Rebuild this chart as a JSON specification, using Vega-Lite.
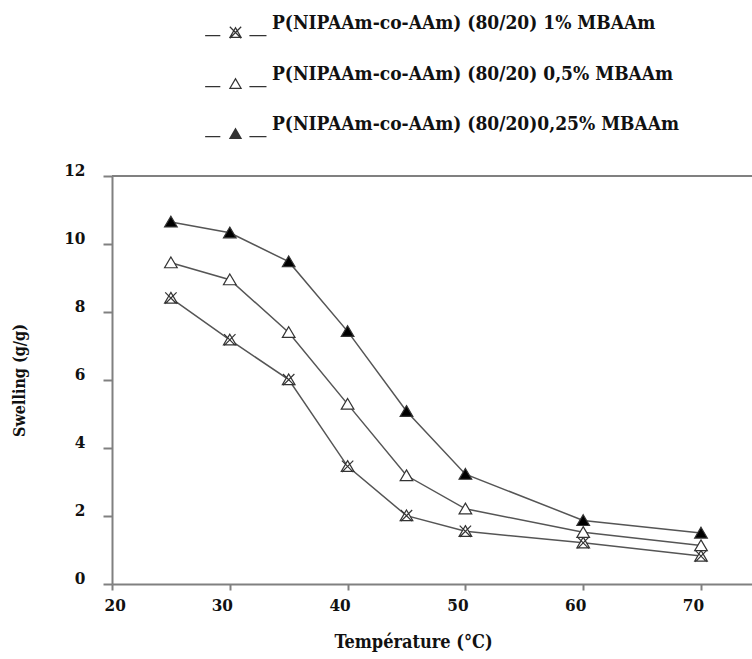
{
  "$schema": "https://vega.github.io/schema/vega-lite/v6.json",
  "width": 640,
  "height": 408,
  "autosize": {"type": "none"},
  "padding": {"left": 112, "top": 176, "right": 0, "bottom": 75},
  "background": "white",
  "config": {
    "view": {"stroke": null},
    "font": "DejaVu Serif Condensed"
  },
  "resolve": {"scale": {"shape": "independent", "fill": "independent"}, "legend": {"shape": "independent", "fill": "independent"}},
  "data": {
    "values": [
      {"T": 25, "S": 8.41, "series": "P(NIPAAm-co-AAm) (80/20) 1% MBAAm"},
      {"T": 30, "S": 7.18, "series": "P(NIPAAm-co-AAm) (80/20) 1% MBAAm"},
      {"T": 35, "S": 6.01, "series": "P(NIPAAm-co-AAm) (80/20) 1% MBAAm"},
      {"T": 40, "S": 3.46, "series": "P(NIPAAm-co-AAm) (80/20) 1% MBAAm"},
      {"T": 45, "S": 2.01, "series": "P(NIPAAm-co-AAm) (80/20) 1% MBAAm"},
      {"T": 50, "S": 1.55, "series": "P(NIPAAm-co-AAm) (80/20) 1% MBAAm"},
      {"T": 60, "S": 1.21, "series": "P(NIPAAm-co-AAm) (80/20) 1% MBAAm"},
      {"T": 70, "S": 0.82, "series": "P(NIPAAm-co-AAm) (80/20) 1% MBAAm"},
      {"T": 25, "S": 9.45, "series": "P(NIPAAm-co-AAm) (80/20) 0,5% MBAAm"},
      {"T": 30, "S": 8.95, "series": "P(NIPAAm-co-AAm) (80/20) 0,5% MBAAm"},
      {"T": 35, "S": 7.40, "series": "P(NIPAAm-co-AAm) (80/20) 0,5% MBAAm"},
      {"T": 40, "S": 5.29, "series": "P(NIPAAm-co-AAm) (80/20) 0,5% MBAAm"},
      {"T": 45, "S": 3.19, "series": "P(NIPAAm-co-AAm) (80/20) 0,5% MBAAm"},
      {"T": 50, "S": 2.21, "series": "P(NIPAAm-co-AAm) (80/20) 0,5% MBAAm"},
      {"T": 60, "S": 1.52, "series": "P(NIPAAm-co-AAm) (80/20) 0,5% MBAAm"},
      {"T": 70, "S": 1.13, "series": "P(NIPAAm-co-AAm) (80/20) 0,5% MBAAm"},
      {"T": 25, "S": 10.65, "series": "P(NIPAAm-co-AAm) (80/20)0,25% MBAAm"},
      {"T": 30, "S": 10.33, "series": "P(NIPAAm-co-AAm) (80/20)0,25% MBAAm"},
      {"T": 35, "S": 9.48, "series": "P(NIPAAm-co-AAm) (80/20)0,25% MBAAm"},
      {"T": 40, "S": 7.43, "series": "P(NIPAAm-co-AAm) (80/20)0,25% MBAAm"},
      {"T": 45, "S": 5.08, "series": "P(NIPAAm-co-AAm) (80/20)0,25% MBAAm"},
      {"T": 50, "S": 3.23, "series": "P(NIPAAm-co-AAm) (80/20)0,25% MBAAm"},
      {"T": 60, "S": 1.87, "series": "P(NIPAAm-co-AAm) (80/20)0,25% MBAAm"},
      {"T": 70, "S": 1.50, "series": "P(NIPAAm-co-AAm) (80/20)0,25% MBAAm"}
    ]
  },
  "encoding": {
    "x": {
      "field": "T", "type": "quantitative",
      "scale": {"domain": [20, 74.33], "nice": false, "zero": false},
      "axis": {
        "title": "Température (°C)",
        "values": [20, 30, 40, 50, 60, 70],
        "grid": false,
        "domainColor": "#808080", "domainWidth": 2,
        "tickColor": "#808080", "tickWidth": 2, "tickSize": 6,
        "labelFont": "DejaVu Serif Condensed", "labelFontWeight": "bold", "labelFontSize": 17, "labelColor": "#111",
        "labelPadding": 7, "labelOffset": -8,
        "titleFont": "DejaVu Serif Condensed", "titleFontWeight": "bold", "titleFontSize": 18, "titleColor": "#111",
        "titlePadding": 20, "titleX": 301
      }
    },
    "y": {
      "field": "S", "type": "quantitative",
      "scale": {"domain": [0, 12], "nice": false},
      "axis": {
        "title": "Swelling (g/g)",
        "values": [0, 2, 4, 6, 8, 10, 12],
        "grid": false,
        "domainColor": "#808080", "domainWidth": 2,
        "tickColor": "#808080", "tickWidth": 2, "tickSize": 9,
        "labelFont": "DejaVu Serif Condensed", "labelFontWeight": "bold", "labelFontSize": 17, "labelColor": "#111",
        "labelPadding": 18, "labelOffset": -6,
        "titleFont": "DejaVu Serif Condensed", "titleFontWeight": "bold", "titleFontSize": 16, "titleColor": "#111",
        "titlePadding": 36
      }
    }
  },
  "layer": [
    {
      "mark": {"type": "rule", "color": "#808080", "strokeWidth": 2},
      "encoding": {"y": {"datum": 12}, "x": null}
    },
    {
      "mark": {"type": "line", "color": "#555555", "strokeWidth": 1.5},
      "encoding": {"detail": {"field": "series"}}
    },
    {
      "mark": {"type": "point", "filled": true, "stroke": "#333333", "strokeWidth": 1.2, "size": 160, "opacity": 1},
      "encoding": {
        "shape": {
          "field": "series", "type": "nominal",
          "legend": null,
          "scale": {
            "domain": ["P(NIPAAm-co-AAm) (80/20) 1% MBAAm", "P(NIPAAm-co-AAm) (80/20) 0,5% MBAAm", "P(NIPAAm-co-AAm) (80/20)0,25% MBAAm"],
            "range": [
              "M0,-0.9L1,0.8L-1,0.8Z M-0.9,-0.9L0.9,0.9 M0.9,-0.9L-0.9,0.9",
              "M0,-0.9L1,0.8L-1,0.8Z",
              "M0,-0.9L1,0.8L-1,0.8Z"
            ]
          }
        },
        "fill": {
          "field": "series", "type": "nominal",
          "legend": null,
          "scale": {
            "domain": ["P(NIPAAm-co-AAm) (80/20) 1% MBAAm", "P(NIPAAm-co-AAm) (80/20) 0,5% MBAAm", "P(NIPAAm-co-AAm) (80/20)0,25% MBAAm"],
            "range": ["white", "white", "black"]
          }
        }
      }
    },
    {
      "mark": {"type": "point", "filled": true, "color": "#333333", "size": 160, "opacity": 0},
      "encoding": {
        "shape": {
          "field": "series", "type": "nominal",
          "scale": {
            "domain": ["P(NIPAAm-co-AAm) (80/20) 1% MBAAm", "P(NIPAAm-co-AAm) (80/20) 0,5% MBAAm", "P(NIPAAm-co-AAm) (80/20)0,25% MBAAm"],
            "range": [
              "M-4.8,0.4H-2.4V0.6H-4.8Z M2.2,0.4H4.9V0.6H2.2Z M0,-0.95L1.05,0.85L-1.05,0.85Z M0,-0.55L-0.72,0.67L0.72,0.67Z M-0.83,-0.97L0.97,0.83L0.83,0.97L-0.97,-0.83Z M0.83,-0.97L0.97,-0.83L-0.83,0.97L-0.97,0.83Z",
              "M-4.8,0.4H-2.4V0.6H-4.8Z M2.2,0.4H4.9V0.6H2.2Z M0,-0.95L1.05,0.85L-1.05,0.85Z M0,-0.55L-0.72,0.67L0.72,0.67Z",
              "M-4.8,0.4H-2.4V0.6H-4.8Z M2.2,0.4H4.9V0.6H2.2Z M0,-0.95L1.05,0.85L-1.05,0.85Z"
            ]
          },
          "legend": {
            "orient": "none",
            "legendX": 114,
            "legendY": -153,
            "title": null,
            "padding": 0,
            "symbolSize": 160,
            "symbolOpacity": 1,
            "symbolFillColor": "#333333",
            "symbolStrokeWidth": 0,
            "labelFont": "DejaVu Serif Condensed",
            "labelFontWeight": "bold",
            "labelFontSize": 19,
            "labelColor": "#111",
            "labelBaseline": "bottom",
            "labelOffset": 27,
            "labelLimit": 500,
            "rowPadding": 25
          }
        }
      }
    }
  ]
}
